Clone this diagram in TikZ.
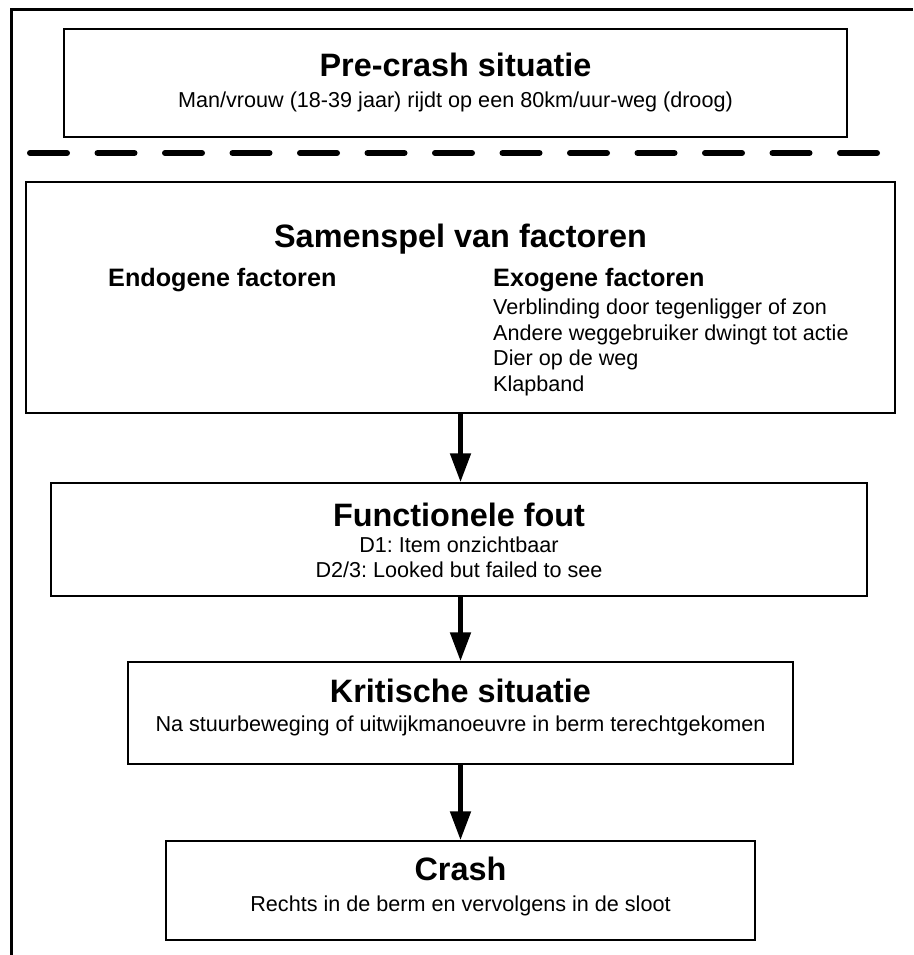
\documentclass[tikz,border=0pt]{standalone}
\usepackage{fontspec}
\setmainfont{Liberation Sans}
\usetikzlibrary{arrows.meta}
\frenchspacing

\tikzset{
  box/.style={draw=black, line width=1.5pt, rectangle, inner sep=0pt},
  title/.style={anchor=base, inner sep=0pt, font=\fontsize{32.4}{38}\selectfont\bfseries},
  subhead/.style={inner sep=0pt, font=\fontsize{25.2}{30}\selectfont\bfseries},
  body/.style={inner sep=0pt, font=\fontsize{21.6}{25.8}\selectfont},
  flow/.style={line width=5pt, -{Triangle[width=20pt,length=29pt]}},
  frame/.style={line width=3pt, black},
  divider/.style={line width=6pt, line cap=round, dash pattern=on 37pt off 30.5pt}
}

\begin{document}
\begin{tikzpicture}[x=1pt, y=-1pt]
  \useasboundingbox (0,0) rectangle (913,955);

  % outer frame: top and left edges only
  \coordinate (fa) at (11,955);
  \coordinate (fb) at (11,10);
  \coordinate (fc) at (913,10);
  \draw[frame] (fa) -- (fb) -- (fc);

  % boxes
  \node[box, minimum width=783pt, minimum height=108pt] (pre)   at (455.5,83)   {};
  \node[box, minimum width=869pt, minimum height=231pt] (samen) at (460.5,297.5) {};
  \node[box, minimum width=816pt, minimum height=113pt] (func)  at (459,539.5)  {};
  \node[box, minimum width=665pt, minimum height=102pt] (krit)  at (460.5,713)  {};
  \node[box, minimum width=589pt, minimum height=99pt]  (crash) at (460.5,890.5) {};

  % dashed divider
  \coordinate (da) at (30,153);
  \coordinate (db) at (877,153);
  \draw[divider] (da) -- (db);

  % texts
  \node[title] (preT) at (455.5,77) {Pre-crash situatie};
  \node[body, anchor=base] (preS) at (455.5,108) {Man/vrouw (18-39 jaar) rijdt op een 80km/uur-weg (droog)};

  \node[title] (samT) at (460.5,247) {Samenspel van factoren};
  \node[subhead, anchor=base west] (endo) at (108,286.5) {Endogene factoren};
  \node[subhead, anchor=base west] (exo)  at (493,286.5) {Exogene factoren};
  \node[body, anchor=base west] (exo1) at (493,314.2) {Verblinding door tegenligger of zon};
  \node[body, anchor=base west] (exo2) at (493,340)   {Andere weggebruiker dwingt tot actie};
  \node[body, anchor=base west] (exo3) at (493,365.8) {Dier op de weg};
  \node[body, anchor=base west] (exo4) at (493,391.6) {Klapband};

  \node[title] (funT) at (459,526) {Functionele fout};
  \node[body, anchor=base] (fun1) at (459,552) {D1: Item onzichtbaar};
  \node[body, anchor=base] (fun2) at (459,577.5) {D2/3: Looked but failed to see};

  \node[title] (kriT) at (460.5,702) {Kritische situatie};
  \node[body, anchor=base] (kri1) at (460.5,731) {Na stuurbeweging of uitwijkmanoeuvre in berm terechtgekomen};

  \node[title] (craT) at (460.5,880) {Crash};
  \node[body, anchor=base] (cra1) at (460.5,911) {Rechts in de berm en vervolgens in de sloot};

  % connectors
  \draw[flow] (samen.south) -- (samen.south |- func.north);
  \draw[flow] (func.south -| samen.south) -- (samen.south |- krit.north);
  \draw[flow] (krit.south) -- (crash.north);
\end{tikzpicture}
\end{document}
